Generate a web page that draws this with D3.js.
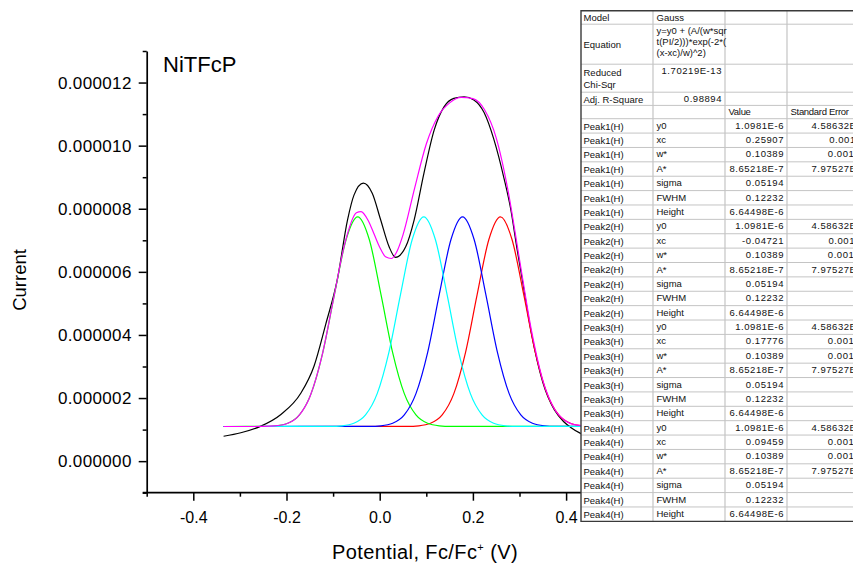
<!DOCTYPE html>
<html><head><meta charset="utf-8">
<script src="https://cdn.jsdelivr.net/npm/d3@7"></script>
<style>
body{margin:0;background:#fff}
svg{display:block}
text{font-family:"Liberation Sans",Arial,Helvetica,sans-serif}
</style>
</head><body>
<svg id="c" width="853" height="563"></svg>
<script>
// ---------- data (current in A, potential in V) ----------
const blackX = [-0.335,-0.298,-0.255,-0.212,-0.169,-0.141,-0.116,-0.091,-0.069,-0.055,-0.035,-0.016,0.002,0.020,0.034,0.056,0.074,0.095,0.117,0.138,0.159,0.181,0.202,0.224,0.245,0.267,0.281,0.295,0.306,0.325,0.350,0.375,0.395,0.410,0.431,0.450];
const blackY = [0.79e-6,0.90e-6,1.11e-6,1.48e-6,2.16e-6,3.01e-6,4.33e-6,5.75e-6,7.65e-6,8.44e-6,8.81e-6,8.49e-6,7.65e-6,6.80e-6,6.46e-6,6.80e-6,7.65e-6,9.13e-6,10.50e-6,11.23e-6,11.50e-6,11.55e-6,11.45e-6,11.05e-6,10.20e-6,8.95e-6,8.00e-6,6.70e-6,5.75e-6,4.10e-6,2.50e-6,1.62e-6,1.25e-6,1.07e-6,0.88e-6,0.75e-6];

const fitX = [-0.335,-0.3,-0.275,-0.25,-0.225,-0.2,-0.175,-0.15,-0.125,-0.1,-0.075,-0.05,-0.04,-0.025,-0.0125,0,0.0125,0.025,0.0375,0.05,0.075,0.1,0.125,0.15,0.175,0.2,0.225,0.25,0.275,0.3,0.325,0.35,0.375,0.4,0.425,0.45,0.5,0.55];
const fitY = [1.098e-6,1.098e-6,1.098e-6,1.101e-6,1.117e-6,1.186e-6,1.420e-6,2.036e-6,3.264e-6,5.068e-6,6.889e-6,7.871e-6,7.912e-6,7.635e-6,7.215e-6,6.780e-6,6.478e-6,6.423e-6,6.662e-6,7.172e-6,8.655e-6,10.053e-6,10.926e-6,11.356e-6,11.532e-6,11.490e-6,11.137e-6,10.247e-6,8.609e-6,6.392e-6,4.190e-6,2.562e-6,1.655e-6,1.267e-6,1.139e-6,1.106e-6,1.098e-6,1.098e-6];

const redX   = [-0.335,0.0591,0.0841,0.1091,0.1341,0.1591,0.1841,0.2091,0.2341,0.2591,0.2841,0.3091,0.3341,0.3591,0.3841,0.4091,0.4341,0.4591,0.55];
const redY   = [1.098e-6,1.102e-6,1.121e-6,1.201e-6,1.465e-6,2.140e-6,3.441e-6,5.279e-6,7.016e-6,7.743e-6,7.016e-6,5.279e-6,3.441e-6,2.140e-6,1.465e-6,1.201e-6,1.121e-6,1.102e-6,1.098e-6];
const greenX = [-0.335,-0.2472,-0.2222,-0.1972,-0.1722,-0.1472,-0.1222,-0.0972,-0.0722,-0.0472,-0.0222,0.0028,0.0278,0.0528,0.0778,0.1028,0.1278,0.1528,0.55];
const greenY = [1.098e-6,1.102e-6,1.121e-6,1.201e-6,1.465e-6,2.140e-6,3.441e-6,5.279e-6,7.016e-6,7.743e-6,7.016e-6,5.279e-6,3.441e-6,2.140e-6,1.465e-6,1.201e-6,1.121e-6,1.102e-6,1.098e-6];
const blueX  = [-0.335,-0.0222,0.0028,0.0278,0.0528,0.0778,0.1028,0.1278,0.1528,0.1778,0.2028,0.2278,0.2528,0.2778,0.3028,0.3278,0.3528,0.3778,0.55];
const blueY  = [1.098e-6,1.102e-6,1.121e-6,1.201e-6,1.465e-6,2.140e-6,3.441e-6,5.279e-6,7.016e-6,7.743e-6,7.016e-6,5.279e-6,3.441e-6,2.140e-6,1.465e-6,1.201e-6,1.121e-6,1.102e-6,1.098e-6];
const cyanX  = [-0.335,-0.1054,-0.0804,-0.0554,-0.0304,-0.0054,0.0196,0.0446,0.0696,0.0946,0.1196,0.1446,0.1696,0.1946,0.2196,0.2446,0.2696,0.2946,0.55];
const cyanY  = [1.098e-6,1.102e-6,1.121e-6,1.201e-6,1.465e-6,2.140e-6,3.441e-6,5.279e-6,7.016e-6,7.743e-6,7.016e-6,5.279e-6,3.441e-6,2.140e-6,1.465e-6,1.201e-6,1.121e-6,1.102e-6,1.098e-6];

const xTickValues = [-0.4,-0.2,0.0,0.2,0.4];
const xTickLabels = ["-0.4","-0.2","0.0","0.2","0.4"];
const xMinorValues = [-0.5,-0.3,-0.1,0.1,0.3,0.5];
const yTickValues = [0,2e-6,4e-6,6e-6,8e-6,10e-6,12e-6];
const yTickLabels = ["0.000000","0.000002","0.000004","0.000006","0.000008","0.000010","0.000012"];
const yMinorValues = [-1e-6,1e-6,3e-6,5e-6,7e-6,9e-6,11e-6,13e-6];

// ---------- table data ----------
const infoLabels = [["Model"],["Equation"],["Reduced","Chi-Sqr"],["Adj. R-Square"]];
const infoValues = [["Gauss"],["y=y0 + (A/(w*sqr","t(PI/2)))*exp(-2*(","(x-xc)/w)^2)"],["1.70219E-13"],["0.98894"]];
const headerCols = ["Value","Standard Error"];
const peakNames = ["Peak1(H)","Peak2(H)","Peak3(H)","Peak4(H)"];
const paramNames = ["y0","xc","w*","A*","sigma","FWHM","Height"];
const peakValues = [
  ["1.0981E-6","0.25907","0.10389","8.65218E-7","0.05194","0.12232","6.64498E-6"],
  ["1.0981E-6","-0.04721","0.10389","8.65218E-7","0.05194","0.12232","6.64498E-6"],
  ["1.0981E-6","0.17776","0.10389","8.65218E-7","0.05194","0.12232","6.64498E-6"],
  ["1.0981E-6","0.09459","0.10389","8.65218E-7","0.05194","0.12232","6.64498E-6"]];
const peakErrors = [
  ["4.58632E-8","0.00111","0.00161","7.97527E-9","","",""],
  ["4.58632E-8","0.00115","0.00161","7.97527E-9","","",""],
  ["4.58632E-8","0.00101","0.00161","7.97527E-9","","",""],
  ["4.58632E-8","0.00124","0.00161","7.97527E-9","","",""]];

// ---------- chart ----------
const svg = d3.select("#c");
const x = d3.scaleLinear().domain([-0.5,0.5]).range([146.7,612.7]);
const y = d3.scaleLinear().domain([-1e-6,13e-6]).range([492.7,51]);

const series = [
  {xs:blackX, ys:blackY, color:"#000000"},
  {xs:redX, ys:redY, color:"#ff0000"},
  {xs:greenX, ys:greenY, color:"#00ff00"},
  {xs:blueX, ys:blueY, color:"#0000ff"},
  {xs:cyanX, ys:cyanY, color:"#00ffff"},
  {xs:fitX, ys:fitY, color:"#ff00ff"}
];
const line = d3.line().x(d=>x(d[0])).y(d=>y(d[1])).curve(d3.curveMonotoneX);
svg.append("g").selectAll("path").data(series).join("path")
  .attr("d", s => line(s.xs.map((v,i)=>[v,s.ys[i]])))
  .attr("fill","none").attr("stroke",s=>s.color).attr("stroke-width",1.2);

// axes
const gx = svg.append("g").attr("transform",`translate(0,${y(-1e-6)})`)
  .call(d3.axisBottom(x).tickValues(xTickValues).tickFormat((d,i)=>xTickLabels[i]).tickSize(8).tickSizeOuter(0).tickPadding(10.5));
const gxm = svg.append("g").attr("transform",`translate(0,${y(-1e-6)})`)
  .call(d3.axisBottom(x).tickValues(xMinorValues).tickFormat("").tickSize(4).tickSizeOuter(0));
gxm.select(".domain").remove();
const gy = svg.append("g").attr("transform",`translate(${x(-0.5)},0)`)
  .call(d3.axisLeft(y).tickValues(yTickValues).tickFormat((d,i)=>yTickLabels[i]).tickSize(8).tickSizeOuter(0).tickPadding(7));
const gym = svg.append("g").attr("transform",`translate(${x(-0.5)},0)`)
  .call(d3.axisLeft(y).tickValues(yMinorValues).tickFormat("").tickSize(4).tickSizeOuter(0));
gym.select(".domain").remove();
[gx,gxm,gy,gym].forEach(g=>{
  g.selectAll(".domain").attr("stroke","#000").attr("stroke-width",1.7);
  g.selectAll(".tick line").attr("stroke","#000").attr("stroke-width",1.5);
  g.selectAll(".tick text").attr("fill","#000").attr("font-family",'"Liberation Sans",Arial,sans-serif');
});
gx.selectAll(".tick text").attr("font-size",16);
gy.selectAll(".tick text").attr("font-size",17).attr("letter-spacing",0.35);
gx.select(".domain").attr("d",`M${x(-0.5)-4},0H${x(0.5)}`);

// titles
svg.append("text").attr("x",163).attr("y",72).attr("font-size",22).text("NiTFcP");
svg.append("text").attr("transform","translate(25.5,280) rotate(-90)").attr("text-anchor","middle").attr("font-size",18.5).text("Current");
const xl = svg.append("text").attr("x",425).attr("y",559).attr("text-anchor","middle").attr("font-size",20).attr("letter-spacing",0.4);
xl.append("tspan").text("Potential, Fc/Fc");
xl.append("tspan").attr("font-size",11).attr("dy",-8).text("+");
xl.append("tspan").attr("dy",8).text(" (V)");

// ---------- table ----------
const colX = [581,653,725,787,869];
const rows = [];
infoLabels.forEach((lab,i)=>rows.push({h:[13.5,40,28,13.2][i], cells:[lab, infoValues[i], [], []], kind:"info", numeric:i>=2}));
rows.push({h:13.3, cells:[[""],[""],[headerCols[0]],[headerCols[1]]], kind:"head"});
peakNames.forEach((p,pi)=>paramNames.forEach((pn,k)=>rows.push({h:14.38, cells:[[p],[pn],[peakValues[pi][k]],[peakErrors[pi][k]]], kind:"peak"})));

const tg = svg.append("g").attr("font-size",9.5).attr("fill","#111");
let rowY = 10.7;
const tableTop = rowY;
rows.forEach(r=>{r.top=rowY; rowY+=r.h;});
const tableBottom = rowY;
tg.append("rect").attr("x",colX[0]).attr("y",tableTop).attr("width",colX[4]-colX[0]).attr("height",tableBottom-tableTop).attr("fill","#fff");
rows.forEach((r,i)=>{ if(i>0) tg.append("line").attr("x1",colX[0]).attr("x2",colX[4]).attr("y1",r.top).attr("y2",r.top).attr("stroke","#c4c4c4").attr("stroke-width",1); });
colX.slice(1,4).forEach(cx=>tg.append("line").attr("x1",cx).attr("x2",cx).attr("y1",tableTop).attr("y2",tableBottom).attr("stroke","#c4c4c4").attr("stroke-width",1.2));
tg.append("path").attr("d",`M${colX[4]},${tableTop}H${colX[0]}V${tableBottom}H${colX[4]}`).attr("fill","none").attr("stroke","#3a3a3a").attr("stroke-width",1.4);
rows.forEach(r=>{
  r.cells.forEach((lines,ci)=>{
    lines.forEach((t,li)=>{
      if(!t) return;
      let by, anchor="start", tx;
      if(ci===0){ const n=lines.length; by = r.top + r.h/2 + 3.8 + (li-(n-1)/2)*12.5; }
      else { by = r.top + 10 + li*10.8; }
      const isNum = /^-?[0-9.]+(E-?[0-9]+)?$/.test(t);
      const rightAlign = ((ci===2||ci===3) && r.kind==="peak") || (ci===1 && r.numeric);
      if(rightAlign){ anchor="end"; tx = colX[ci+1]-3; } else { tx = colX[ci] + (ci===0?2.5:3.5); }
      const el = tg.append("text").attr("x",tx).attr("y",by).attr("text-anchor",anchor).text(t);
      if(isNum) el.attr("letter-spacing",0.55);
      if(r.kind==="head") el.attr("letter-spacing",-0.3);
    });
  });
});
</script>
</body></html>
